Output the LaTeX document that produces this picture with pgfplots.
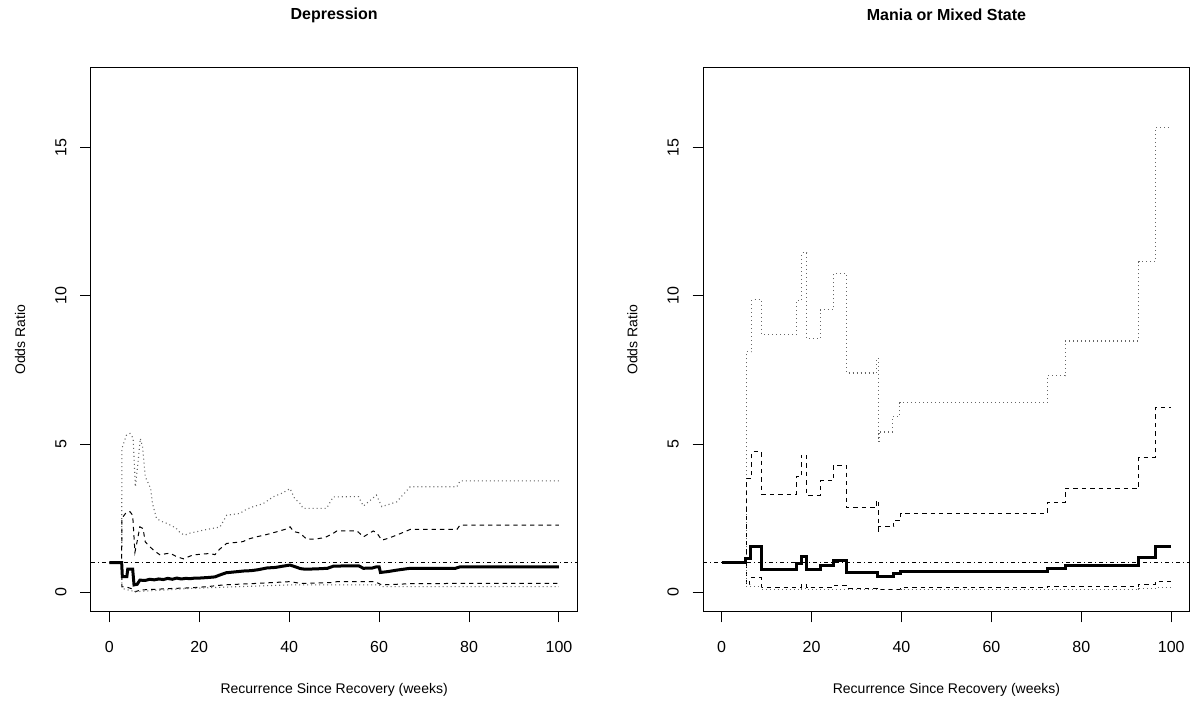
\documentclass[border=0pt]{standalone}
\usepackage{fontspec}
\setmainfont{Liberation Sans}
\usepackage{pgfplots}
\pgfplotsset{compat=1.18}
\begin{document}
\begin{tikzpicture}
\useasboundingbox (0,0) rectangle (595.5pt,353pt);
\pgfplotsset{
 rstyle/.style={
  scale only axis, width=243.15pt, height=272pt,
  xmin=-4.07, xmax=104.07, ymin=-0.654, ymax=17.70,
  xtick={0,20,40,60,80,100}, ytick={0,5,10,15},
  tick align=outside, major tick length=5.3pt,
  xtick pos=bottom, ytick pos=left,
  axis line style={line width=0.5pt},
  every tick/.style={black, line width=0.5pt},
  tick label style={font=\fontsize{8}{9.6}\selectfont},
  /pgf/number format/assume math mode=true,
  xticklabel style={anchor=north, inner sep=0pt},
  yticklabel style={rotate=90, anchor=south, inner sep=0pt},
  xticklabel shift=9.5pt, yticklabel shift=6.7pt,
  every axis title shift=0pt,
  title style={at={(axis description cs:0.5,1.0969)}, anchor=center, inner sep=0pt, font=\bfseries\fontsize{8}{9.6}\selectfont},
  xlabel style={at={(axis description cs:0.5,-0.1434)}, anchor=center, inner sep=0pt, font=\fontsize{7}{8.5}\selectfont},
  ylabel style={at={(axis description cs:-0.146,0.5)}, anchor=center, inner sep=0pt, font=\fontsize{7}{8.5}\selectfont},
  xlabel={Recurrence Since Recovery (weeks)}, ylabel={Odds Ratio},
 },
 est/.style={black, line width=1.5pt},
 dsh/.style={black, line width=0.5pt, dash pattern=on 2.2pt off 2pt},
 dot/.style={black!60, line width=0.55pt, dash pattern=on 0.5pt off 1.5pt},
 ref/.style={black, line width=0.5pt, dash pattern=on 0.5pt off 1.5pt on 2pt off 1.5pt},
}
% ---------- Left panel ----------
\begin{axis}[rstyle, at={(45.5pt,47.15pt)}, anchor=south west, title={Depression}]
\addplot[ref] coordinates {(-5,1)(105,1)};
\addplot[dot] coordinates {(0,1)(2.75,1)(2.8,4.85)(3.8,5.3)(4.6,5.36)(5.3,5.2)(5.8,3.56)(6.4,4.4)(6.9,5.19)(7.4,4.9)(8,3.9)(8.6,3.7)(9.2,3.5)(9.6,3.0)(10.5,2.49)(11.5,2.4)(12.7,2.33)(13.8,2.25)(14.9,2.16)(15.8,2.0)(16.8,1.93)(18,2.0)(19.3,2.04)(21,2.1)(23.1,2.16)(24.6,2.2)(26.1,2.6)(29,2.66)(30.5,2.8)(32,2.89)(34.2,2.99)(36.4,3.22)(38.5,3.35)(40.2,3.5)(41.2,3.17)(42.4,3.0)(43.1,2.83)(48.3,2.83)(49.8,3.22)(55.4,3.23)(56.5,2.91)(59.4,3.28)(60.6,2.89)(63.9,3.05)(66.9,3.56)(77.3,3.56)(78,3.76)(100,3.76)};
\addplot[dsh] coordinates {(0,1)(2.75,1)(2.8,2.5)(3.8,2.7)(4.6,2.72)(5.2,2.6)(5.7,1.35)(6.3,1.8)(6.8,2.21)(7.5,2.15)(8.0,1.7)(9.0,1.54)(10,1.4)(11.3,1.26)(12.5,1.3)(13.5,1.32)(15,1.2)(16.5,1.13)(18.6,1.26)(20,1.28)(22.4,1.31)(23.5,1.27)(24.5,1.45)(26.1,1.65)(28,1.68)(29.7,1.71)(31,1.8)(32.7,1.87)(35,1.95)(37.2,2.04)(39,2.12)(40.2,2.21)(41,2.05)(42.4,2.0)(43.9,1.79)(46,1.8)(48,1.85)(49.8,1.99)(50.6,2.07)(55.1,2.07)(56.5,1.87)(58.7,2.07)(59.5,2.0)(60.6,1.76)(62,1.82)(63.9,1.93)(66.9,2.12)(77.3,2.12)(78,2.27)(100,2.27)};
\addplot[dsh] coordinates {(0,1)(2.75,1)(2.8,0.19)(4,0.17)(5,0.12)(5.8,0.02)(7,0.08)(10,0.1)(14,0.13)(18,0.15)(21.7,0.19)(25.4,0.25)(32.7,0.30)(40.2,0.36)(42.5,0.30)(49.8,0.33)(50.6,0.36)(59,0.36)(60.6,0.25)(66.9,0.29)(78,0.30)(100,0.30)};
\addplot[dot] coordinates {(0,1)(2.75,1)(2.8,0.13)(5.8,0.02)(10,0.06)(18,0.13)(25,0.17)(40,0.25)(60,0.25)(60.6,0.19)(100,0.19)};
\addplot[est] coordinates {(0,1)(2.75,1)(2.9,0.53)(3.9,0.53)(4.1,0.78)(5.2,0.78)(5.5,0.25)(6.2,0.27)(6.8,0.41)(8,0.40)(9,0.44)(10,0.42)(11,0.45)(12,0.43)(13,0.47)(14,0.44)(15,0.48)(16,0.45)(17,0.47)(18,0.46)(19,0.48)(20,0.48)(22,0.5)(23.5,0.52)(24.5,0.58)(26,0.66)(28,0.69)(30,0.72)(31.5,0.73)(33,0.76)(35,0.82)(37,0.84)(38.5,0.88)(40.2,0.92)(41,0.88)(42.5,0.80)(43.5,0.78)(46,0.79)(48.5,0.81)(49.8,0.88)(52,0.89)(55.5,0.89)(56.5,0.81)(58.5,0.82)(59.4,0.86)(60,0.86)(60.3,0.67)(62,0.70)(64,0.75)(66.9,0.81)(77,0.81)(78,0.86)(100,0.86)};
\end{axis}
% ---------- Right panel ----------
\begin{axis}[rstyle, at={(351.65pt,47.15pt)}, anchor=south west, title={Mania or Mixed State}]
\addplot[ref] coordinates {(-5,1)(105,1)};
\addplot[dot, const plot] coordinates {(0,1)(5.5,8.11)(6.7,9.87)(8.9,8.7)(16.7,9.85)(17.7,11.45)(18.9,8.56)(21.9,9.54)(24.9,10.75)(27.8,7.4)(34.4,7.9)(34.8,5.08)(35.0,5.41)(38.0,5.92)(39.6,6.4)(72.5,7.3)(76.4,8.48)(92.8,11.16)(96.4,15.67)(100,15.67)};
\addplot[dsh, const plot] coordinates {(0,1)(5.5,3.85)(6.7,4.74)(8.9,3.31)(16.6,3.9)(17.7,4.63)(18.9,3.28)(21.9,3.76)(24.9,4.29)(27.8,2.85)(34.4,3.1)(34.8,2.04)(35.0,2.21)(38.3,2.43)(39.8,2.66)(72.5,3.03)(76.4,3.51)(92.8,4.54)(96.4,6.22)(100,6.22)};
\addplot[dsh, const plot] coordinates {(0,1)(5.5,0.25)(6.3,0.49)(8.9,0.17)(17.7,0.28)(18.9,0.17)(24.9,0.23)(27.8,0.14)(34.8,0.10)(39.8,0.17)(72.5,0.19)(76.4,0.2)(92.8,0.27)(96.4,0.35)(100,0.35)};
\addplot[dot, const plot] coordinates {(0,1)(5.5,0.2)(8.9,0.08)(17.7,0.12)(18.9,0.08)(39.8,0.09)(92.8,0.12)(96.4,0.15)(100,0.15)};
\addplot[est, const plot] coordinates {(0,1)(5.4,1.15)(6.5,1.56)(8.8,0.78)(16.6,0.98)(17.7,1.2)(18.8,0.78)(21.9,0.92)(24.9,1.07)(27.8,0.67)(34.7,0.53)(38.3,0.64)(39.8,0.70)(72.5,0.81)(76.4,0.92)(92.8,1.17)(96.4,1.53)(100,1.53)};
\end{axis}
\end{tikzpicture}
\end{document}
